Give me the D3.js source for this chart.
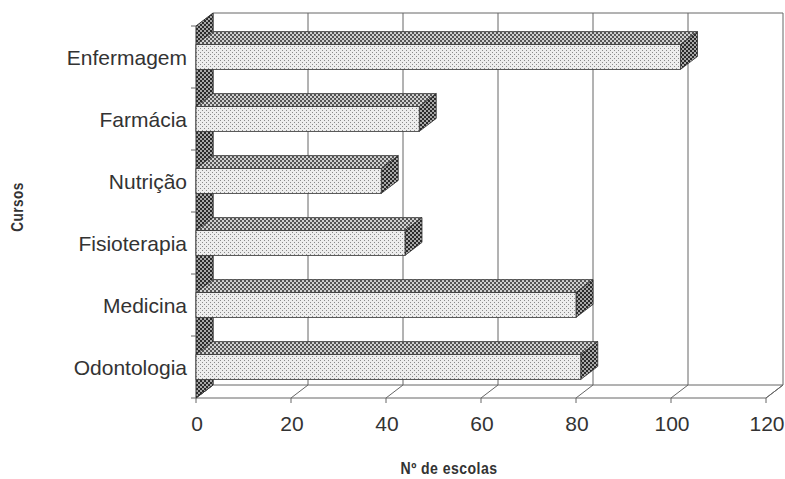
<!DOCTYPE html>
<html>
<head>
<meta charset="utf-8">
<script src="https://cdn.jsdelivr.net/npm/d3@7"></script>
<style>
  html, body { margin: 0; padding: 0; background: #fff; }
  svg { display: block; }
</style>
</head>
<body>
<svg id="chart" width="785" height="479"></svg>
<script>
const categories = ["Enfermagem", "Farmácia", "Nutrição", "Fisioterapia", "Medicina", "Odontologia"];
const values = [102, 47, 39, 44, 80, 81];
const xTicks = [0, 20, 40, 60, 80, 100, 120];
const xTitle = "Nº de escolas";
const yTitle = "Cursos";

const svg = d3.select("#chart");
const defs = svg.append("defs");

// patterns
const light = defs.append("pattern").attr("id", "light").attr("width", 4).attr("height", 4)
  .attr("patternUnits", "userSpaceOnUse");
light.append("rect").attr("width", 4).attr("height", 4).attr("fill", "#ededed");
light.append("rect").attr("x", 0).attr("y", 0).attr("width", 1).attr("height", 1).attr("fill", "#8a8a8a");
light.append("rect").attr("x", 2).attr("y", 2).attr("width", 1).attr("height", 1).attr("fill", "#8a8a8a");

const mid = defs.append("pattern").attr("id", "mid").attr("width", 4).attr("height", 4)
  .attr("patternUnits", "userSpaceOnUse");
mid.append("rect").attr("width", 4).attr("height", 4).attr("fill", "#d0d0d0");
mid.append("rect").attr("x", 0).attr("y", 0).attr("width", 2).attr("height", 2).attr("fill", "#555");
mid.append("rect").attr("x", 2).attr("y", 2).attr("width", 2).attr("height", 2).attr("fill", "#555");

const dark = defs.append("pattern").attr("id", "dark").attr("width", 4).attr("height", 4)
  .attr("patternUnits", "userSpaceOnUse");
dark.append("rect").attr("width", 4).attr("height", 4).attr("fill", "#a8a8a8");
dark.append("rect").attr("x", 0).attr("y", 0).attr("width", 2).attr("height", 2).attr("fill", "#2a2a2a");
dark.append("rect").attr("x", 2).attr("y", 2).attr("width", 2).attr("height", 2).attr("fill", "#2a2a2a");

// scales
const x = d3.scaleLinear().domain([0, 120]).range([196, 766]);
const y = d3.scaleBand().domain(categories).range([26, 398]).paddingInner(0.6).paddingOuter(0.3);
const DX = 17, DY = -13;
const yTop = 26, yBot = 398;
const lineCol = "#666";

// back wall
svg.append("line").attr("x1", x(0) + DX).attr("x2", x(120) + DX)
  .attr("y1", yTop + DY).attr("y2", yTop + DY).attr("stroke", lineCol);
svg.append("g").selectAll("line").data(xTicks).join("line")
  .attr("x1", d => x(d) + DX).attr("x2", d => x(d) + DX)
  .attr("y1", yTop + DY).attr("y2", yBot + DY)
  .attr("stroke", lineCol).attr("stroke-width", 1);

// floor
svg.append("polygon")
  .attr("points", [[x(0), yBot], [x(120), yBot], [x(120) + DX, yBot + DY], [x(0) + DX, yBot + DY]].join(" "))
  .attr("fill", "#fff").attr("stroke", lineCol);
svg.append("g").selectAll("line").data(xTicks).join("line")
  .attr("x1", d => x(d)).attr("x2", d => x(d) + DX)
  .attr("y1", yBot).attr("y2", yBot + DY)
  .attr("stroke", lineCol);
svg.append("g").selectAll("line").data(xTicks).join("line")
  .attr("x1", d => x(d)).attr("x2", d => x(d))
  .attr("y1", yBot).attr("y2", yBot + 5)
  .attr("stroke", lineCol);

// left wall
svg.append("polygon")
  .attr("points", [[x(0), yTop], [x(0) + DX, yTop + DY], [x(0) + DX, yBot + DY], [x(0), yBot]].join(" "))
  .attr("fill", "url(#dark)").attr("stroke", "#333");

// category tick marks
const step = y.step();
svg.append("g").selectAll("line").data(d3.range(categories.length + 1)).join("line")
  .attr("x1", x(0) - 5).attr("x2", x(0))
  .attr("y1", i => yTop + i * step).attr("y2", i => yTop + i * step)
  .attr("stroke", lineCol);

// bars
const bw = y.bandwidth();
const bars = svg.append("g").selectAll("g").data(categories.map((c, i) => ({ c, v: values[i] }))).join("g");
bars.append("polygon")
  .attr("points", d => {
    const yt = y(d.c), x0 = x(0), xv = x(d.v);
    return [[x0, yt], [xv, yt], [xv + DX, yt + DY], [x0 + DX, yt + DY]].join(" ");
  })
  .attr("fill", "url(#mid)").attr("stroke", "#333").attr("stroke-width", 0.8);
bars.append("polygon")
  .attr("points", d => {
    const yt = y(d.c), yb = yt + bw, xv = x(d.v);
    return [[xv, yt], [xv + DX, yt + DY], [xv + DX, yb + DY], [xv, yb]].join(" ");
  })
  .attr("fill", "url(#dark)").attr("stroke", "#333").attr("stroke-width", 0.8);
bars.append("rect")
  .attr("x", x(0)).attr("y", d => y(d.c))
  .attr("width", d => x(d.v) - x(0)).attr("height", bw)
  .attr("fill", "url(#light)").attr("stroke", "#333").attr("stroke-width", 0.8);

// category labels
svg.append("g").selectAll("text").data(categories).join("text")
  .attr("x", 187).attr("y", d => y(d) + bw / 2).attr("dy", "0.36em")
  .attr("text-anchor", "end")
  .attr("font-family", "'Liberation Sans', Arial, sans-serif").attr("font-size", 21)
  .attr("fill", "#333").text(d => d);

// x tick labels
svg.append("g").selectAll("text").data(xTicks).join("text")
  .attr("x", d => x(d) + 1).attr("y", 431)
  .attr("text-anchor", "middle")
  .attr("font-family", "'Liberation Sans', Arial, sans-serif").attr("font-size", 21)
  .attr("fill", "#333").text(d => d);

// axis titles
svg.append("text").attr("transform", "translate(449,474) scale(0.88,1)").attr("text-anchor", "middle")
  .attr("font-family", "'Liberation Sans', Arial, sans-serif").attr("font-size", 16)
  .attr("font-weight", "bold").attr("letter-spacing", 0.5).attr("fill", "#333").text(xTitle);
svg.append("text").attr("transform", "translate(23,207) rotate(-90) scale(0.85,1)").attr("text-anchor", "middle")
  .attr("font-family", "'Liberation Sans', Arial, sans-serif").attr("font-size", 16)
  .attr("font-weight", "bold").attr("letter-spacing", 0.5).attr("fill", "#333").text(yTitle);
</script>
</body>
</html>
